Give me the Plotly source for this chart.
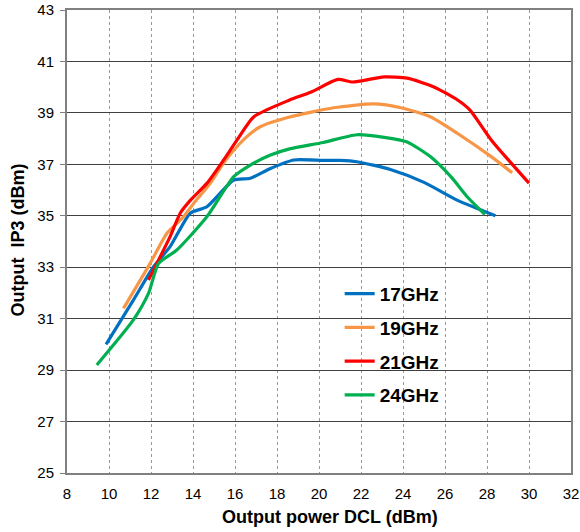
import plotly.graph_objects as go

x17 = [9.86, 11.16, 12.12, 12.91, 13.87, 14.66, 15.94, 16.73, 17.69, 18.8, 20.2, 21.0, 21.8, 23.4, 25.0, 26.6, 27.8, 28.4]
y17 = [30.0, 31.72, 33.02, 33.8, 35.1, 35.35, 36.39, 36.46, 36.84, 37.17, 37.15, 37.15, 37.1, 36.8, 36.3, 35.6, 35.2, 35.0]

x19 = [10.69, 11.96, 12.76, 13.55, 14.03, 14.82, 15.5, 16.4, 17.2, 18.6, 20.7, 22.6, 23.9, 25.3, 26.6, 28.2, 29.2]
y19 = [31.4, 33.15, 34.32, 34.96, 35.48, 36.26, 37.1, 37.95, 38.46, 38.84, 39.2, 39.35, 39.2, 38.85, 38.2, 37.3, 36.67]

x21 = [11.88, 12.28, 12.91, 13.39, 13.87, 14.66, 15.46, 16.1, 16.9, 18.6, 19.6, 20.9, 21.6, 23.1, 24.2, 25.5, 26.6, 27.2, 28.2, 30.0]
y21 = [32.5, 33.15, 34.19, 35.1, 35.6, 36.26, 37.17, 37.95, 38.85, 39.5, 39.8, 40.3, 40.2, 40.4, 40.35, 40.0, 39.5, 39.1, 37.95, 36.27]

x24 = [9.42, 11.16, 11.88, 12.36, 13.23, 14.66, 15.94, 16.73, 17.69, 18.6, 20.2, 21.8, 23.1, 24.2, 25.3, 26.3, 27.1, 27.9]
y24 = [29.2, 30.95, 31.98, 33.15, 33.67, 34.96, 36.52, 36.97, 37.36, 37.6, 37.85, 38.15, 38.05, 37.87, 37.3, 36.5, 35.7, 35.05]

names = ["17GHz", "19GHz", "21GHz", "24GHz"]
colors = ["#0070C0", "#F79646", "#FF0000", "#00B050"]
xs = [x17, x19, x21, x24]
ys = [y17, y19, y21, y24]

x_ticks = list(range(8, 33, 2))
y_ticks = list(range(25, 44, 2))

fig = go.Figure()
for n, c, xv, yv in zip(names, colors, xs, ys):
    fig.add_trace(go.Scatter(x=xv, y=yv, name=n, mode="lines", legendgroup=n,
                             line=dict(color=c, width=3.2, shape="spline", smoothing=0.6)))

FONT = "Liberation Sans, Arial, sans-serif"
fig.update_layout(
    width=580, height=532,
    margin=dict(l=67, r=9, t=10, b=59, autoexpand=False),
    plot_bgcolor="white", paper_bgcolor="white",
    font=dict(family=FONT, size=15, color="black"),
    showlegend=True,
    legend=dict(x=0.541, y=0.428, xanchor="left", yanchor="top",
                font=dict(size=19, family=FONT, color="black", weight="bold"),
                bgcolor="rgba(0,0,0,0)", tracegroupgap=6, itemwidth=30),
    xaxis=dict(range=[8, 32], tickvals=x_ticks, ticktext=[str(t) for t in x_ticks],
               showgrid=True, gridcolor="#999999", griddash="dot", gridwidth=1,
               showline=True, linecolor="#808080", linewidth=2, mirror=True,
               ticks="", zeroline=False, automargin=False, ticklabelstandoff=6),
    yaxis=dict(range=[25, 43], tickvals=y_ticks, ticktext=[str(t) for t in y_ticks],
               showgrid=True, gridcolor="#404040", gridwidth=1.2,
               showline=True, linecolor="#808080", linewidth=2, mirror=True,
               ticks="outside", ticklen=5, tickcolor="#808080", zeroline=False,
               automargin=False, ticklabelstandoff=3),
    annotations=[
        dict(text="<b>Output power DCL (dBm)</b>", xref="paper", yref="paper",
             x=0.522, y=0, xanchor="center", yanchor="middle", yshift=-44,
             showarrow=False, font=dict(size=18, family=FONT, color="black")),
        dict(text="<b>Output  IP3 (dBm)</b>", xref="paper", yref="paper",
             x=0, y=0.502, xanchor="center", yanchor="middle", xshift=-49,
             textangle=-90, showarrow=False, font=dict(size=18, family=FONT, color="black")),
    ],
)

fig.write_html("out.html", config={"displayModeBar": False},
               post_script="document.body.style.margin='0';")
